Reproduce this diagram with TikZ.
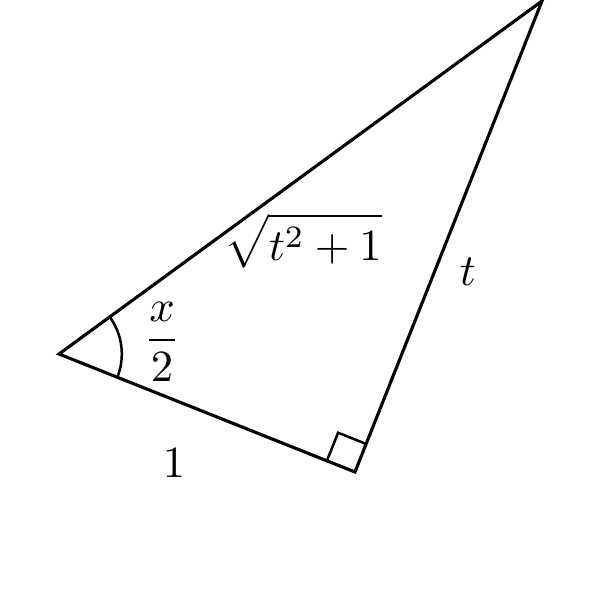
\documentclass[tikz,border=0pt]{standalone}
\usepackage{amsmath}
\usetikzlibrary{angles}
\begin{document}
\begin{tikzpicture}[x=0.008432cm,y=-0.008432cm,
  side/.style={line width=0.75pt,line join=miter},
  lbl/.style={inner sep=0pt,scale=1.07}]
\useasboundingbox (0,0) rectangle (593,593);
\coordinate (A) at (59,354);
\coordinate (B) at (355,472);
\coordinate (C) at (542,1);
\draw[side] (A) -- (B) -- (C) -- cycle;
\pic[draw,line width=0.6pt,angle radius=0.53cm] {angle = B--A--C};
\pic[draw,line width=0.6pt,angle radius=0.255cm] {right angle = C--B--A};
\node[lbl] (hyp) at (303,241) {$\displaystyle\sqrt{t^2+1}$};
\node[lbl] (tl) at (468,272) {$t$};
\node[lbl] (half) at (162,342) {$\dfrac{x}{2}$};
\node[lbl] (one) at (174,463) {$1$};
\end{tikzpicture}
\end{document}
